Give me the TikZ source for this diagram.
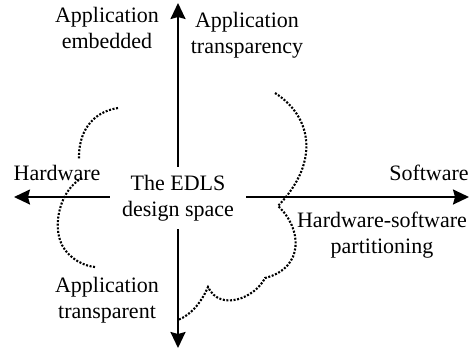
\documentclass[tikz,border=0pt]{standalone}
\usepackage{fontspec}
\setmainfont{Liberation Serif}
\usetikzlibrary{positioning,arrows.meta}

\begin{document}
\begin{tikzpicture}[
      x=0.5pt, y=-0.5pt,
      font=\fontsize{11}{13}\selectfont,
      rotulo/.style={align=center, inner sep=0pt},
      eje/.style={-{Stealth[length=8pt, width=7.5pt, inset=1pt]}, line width=1pt},
      frontera/.style={line width=1.05pt, dash pattern=on 1pt off 0.8pt}]
    \useasboundingbox (0,0) rectangle (469,350);
    \node[align=center, inner xsep=6pt, inner ysep=4pt] (espacio) at (178,198) {The EDLS\\design space};
    \coordinate (arriba) at (178,3);
    \coordinate (abajo) at (178,348);
    \coordinate (izq) at (14,197);
    \coordinate (der) at (469,197);
    \draw[eje] (espacio.north) -- (arriba);
    \draw[eje] (espacio.south) -- (abajo);
    \draw[eje] (espacio.west |- izq) -- (izq);
    \draw[eje] (espacio.east |- der) -- (der);
    \node[rotulo] (embebida) at (107,28) {Application\\embedded};
    \node[rotulo] (transpcia) at (247,35) {Application\\transparency};
    \node[rotulo, anchor=base] (hw) at (57,180) {Hardware};
    \node[rotulo, anchor=base] (sw) at (429,180) {Software};
    \node[rotulo] (particion) at (382,235.5) {Hardware-software\\partitioning};
    \node[rotulo] (transp) at (107,300.5) {Application\\transparent};
    % frontera del espacio de diseno
    \draw[frontera] (118,108) .. controls (92,112) and (78,132) .. (79,160);
    \draw[frontera] (82,178) .. controls (60,190) and (52,225) .. (62,245)
      .. controls (70,260) and (85,266) .. (95,267);
    \draw[frontera] (275,93) .. controls (310,115) and (322,160) .. (278,206)
      .. controls (302,228) and (305,268) .. (265,278)
      .. controls (255,298) and (220,312) .. (208,287)
      .. controls (200,305) and (190,315) .. (178,320);
\end{tikzpicture}
\end{document}
